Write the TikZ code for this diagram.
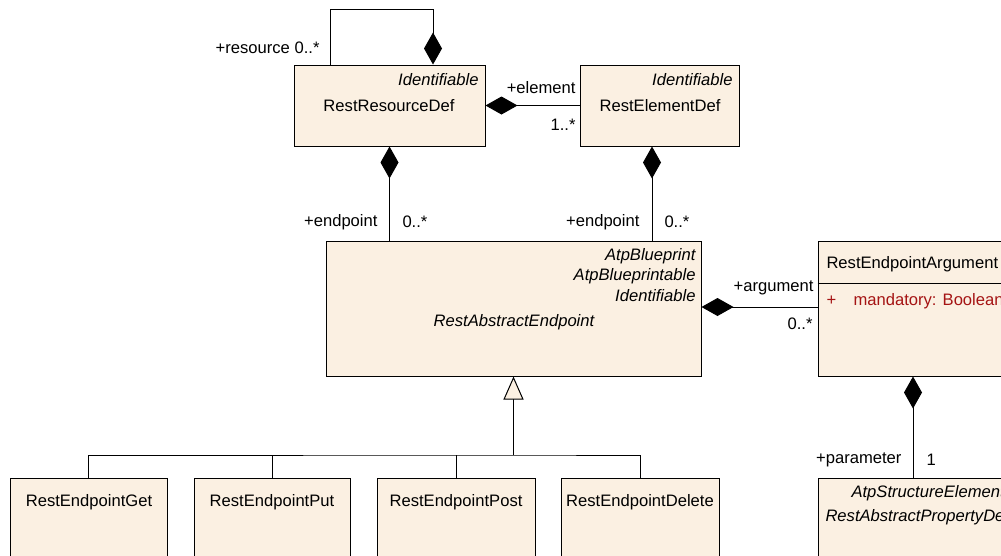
\documentclass[tikz,border=0pt]{standalone}
\usepackage{fontspec}
\setmainfont{Liberation Sans}
\usetikzlibrary{arrows.meta}
\definecolor{clsfill}{RGB}{251,240,226}
\definecolor{attrred}{RGB}{165,20,20}
\newcommand\umlfont{\fontsize{16.6}{19}\selectfont}
\begin{document}
\begin{tikzpicture}[x=1pt, y=-1pt, line width=1pt,
		cls/.style={draw, fill=clsfill, inner sep=0pt},
		txt/.style={inner sep=0pt, font=\umlfont},
		ital/.style={inner sep=0pt, font=\umlfont\itshape},
		comp/.style={{Diamond[length=32pt,width=18pt]}-},
		gen/.style={{Triangle[length=23pt,width=20pt,fill=clsfill]}-}]
	\useasboundingbox (0,0) rectangle (1001,555);
	\clip (0,0) rectangle (1001,555);
	% classes
	\node[cls, minimum width=191pt, minimum height=81pt] (resdef) at (389.5,105.5) {};
	\node[cls, minimum width=159pt, minimum height=81pt] (elemdef) at (659.5,105.5) {};
	\node[cls, minimum width=375pt, minimum height=135pt] (endpt) at (513.5,308.5) {};
	\node[cls, minimum width=190pt, minimum height=135pt] (arg) at (913,308.5) {};
	\node[cls, minimum width=190pt, minimum height=120pt] (prop) at (913,538) {};
	\node[cls, minimum width=157pt, minimum height=120pt] (get) at (88.5,538) {};
	\node[cls, minimum width=156pt, minimum height=120pt] (put) at (272,538) {};
	\node[cls, minimum width=158pt, minimum height=120pt] (post) at (456,538) {};
	\node[cls, minimum width=158pt, minimum height=120pt] (del) at (640,538) {};
	\draw (arg.west |- 0,283) -- (arg.east |- 0,283);
	% class texts
	\node[ital, anchor=east] (resdefst) at (479,80) {Identifiable};
	\node[txt] (resdefname) at (389,106) {RestResourceDef};
	\node[ital, anchor=east] (elemdefst) at (733,80) {Identifiable};
	\node[txt] (elemdefname) at (660,106) {RestElementDef};
	\node[ital, anchor=east] (endptst1) at (696,256) {AtpBlueprint};
	\node[ital, anchor=east] (endptst2) at (696,276) {AtpBlueprintable};
	\node[ital, anchor=east] (endptst3) at (696,296) {Identifiable};
	\node[ital] (endptname) at (514,322) {RestAbstractEndpoint};
	\node[txt, anchor=west] (argname) at (826,264) {RestEndpointArgument};
	\node[txt, anchor=west, text=attrred] (argplus) at (826,301) {+};
	\node[txt, anchor=west, text=attrred] (argattr) at (853,301) {mandatory: Boolean};
	\node[ital, anchor=west] (propst) at (851,493) {AtpStructureElement};
	\node[ital, anchor=west] (propname) at (825,517) {RestAbstractPropertyDef};
	\node[txt] (getname) at (89,502) {RestEndpointGet};
	\node[txt] (putname) at (272,502) {RestEndpointPut};
	\node[txt] (postname) at (456,502) {RestEndpointPost};
	\node[txt] (delname) at (640,502) {RestEndpointDelete};
	% compositions
	\draw[comp] ([xshift=43.5pt]resdef.north) -- ++(0,-55) -| ([xshift=-59.5pt]resdef.north);
	\node[txt, anchor=east] (resourcelbl) at (320,48) {+resource 0..*};
	\draw[comp] (resdef.east) -- (elemdef.west);
	\node[txt, anchor=east] (elementlbl) at (576,88) {+element};
	\node[txt, anchor=east] (elementmul) at (576,125) {1..*};
	\draw[comp] (resdef.south) -- (resdef.south |- endpt.north);
	\node[txt, anchor=east] (endpointlbl1) at (378,222) {+endpoint};
	\node[txt, anchor=west] (endpointmul1) at (402,222) {0..*};
	\draw[comp] ([xshift=-7.5pt]elemdef.south) -- ([xshift=-7.5pt]elemdef.south |- endpt.north);
	\node[txt, anchor=east] (endpointlbl2) at (640,222) {+endpoint};
	\node[txt, anchor=west] (endpointmul2) at (664,222) {0..*};
	\draw[comp] ([yshift=1.5pt]endpt.east) -- ([yshift=1.5pt]endpt.east -| arg.west);
	\node[txt, anchor=east] (argumentlbl) at (814,288) {+argument};
	\node[txt, anchor=east] (argumentmul) at (813,324) {0..*};
	\draw[comp] (arg.south) -- (prop.north);
	\node[txt, anchor=east] (parameterlbl) at (902,460) {+parameter};
	\node[txt, anchor=west] (parametermul) at (926,460) {1};
	% generalization
	\coordinate (bar) at (513.5,455);
	\draw[gen] (endpt.south) -- (bar);
	\draw (get.north) |- (bar) -| (del.north);
	\draw (put.north) -- (put.north |- bar);
	\draw (post.north) -- (post.north |- bar);
\end{tikzpicture}
\end{document}
